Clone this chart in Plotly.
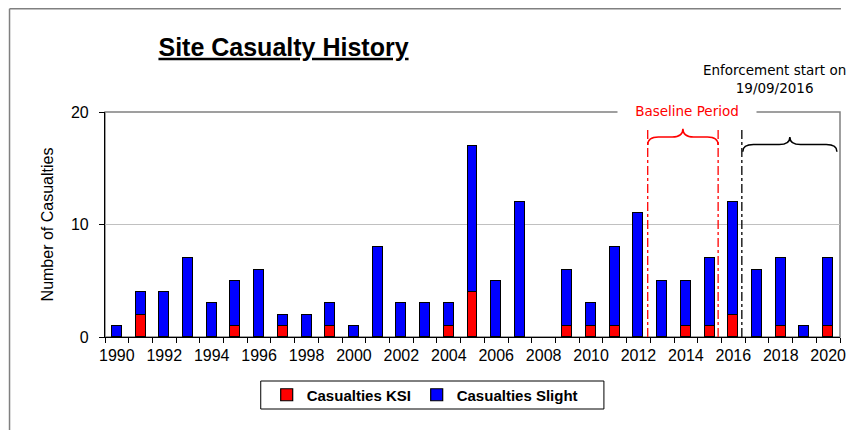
import plotly.graph_objects as go

years = list(range(1990, 2021))
casualties_ksi = [0, 2, 0, 0, 0, 1, 0, 1, 0, 1, 0, 0, 0, 0, 1, 4, 0, 0, 0, 1, 1, 1, 0, 0, 1, 1, 2, 0, 1, 0, 1]
casualties_slight = [1, 2, 4, 7, 3, 4, 6, 1, 2, 2, 1, 8, 3, 3, 2, 13, 5, 12, 0, 5, 2, 7, 11, 5, 4, 6, 10, 6, 6, 1, 6]
tick_years = list(range(1990, 2021, 2))
tick_labels = [str(y) for y in tick_years]
y_ticks = [0, 10, 20]

# annotation positions (data coordinates)
baseline_start = 2012.39
baseline_end = 2015.36
enforcement_start = 2016.36
period_end = 2020.37

FONT_ARIAL = "Liberation Sans, Arial, sans-serif"
FONT_TAHOMA = "DejaVu Sans, Verdana, sans-serif"

def nz(v):
    return [x if x != 0 else None for x in v]

fig = go.Figure()
fig.add_trace(go.Bar(x=years, y=nz(casualties_ksi), name="<b>Casualties KSI</b>", width=0.42,
                     legendwidth=105,
                     marker=dict(color="#FF0000", line=dict(color="black", width=1.2))))
fig.add_trace(go.Bar(x=years, y=nz(casualties_slight), name="<b>Casualties Slight</b>", width=0.42,
                     legendwidth=150,
                     marker=dict(color="#0000FF", line=dict(color="black", width=1.2))))

def brace(x0, x1, y_end, y_flat, y_peak, r):
    xm = (x0 + x1) / 2
    return (f"M {x0},{y_end} Q {x0},{y_flat} {x0 + r},{y_flat} L {xm - r},{y_flat} "
            f"Q {xm},{y_flat} {xm},{y_peak} Q {xm},{y_flat} {xm + r},{y_flat} "
            f"L {x1 - r},{y_flat} Q {x1},{y_flat} {x1},{y_end}")

shapes = [
    # plot-area frame (gray top/right)
    dict(type="rect", xref="paper", yref="paper", x0=0, x1=1, y0=0, y1=1,
         line=dict(color="#808080", width=1.5), layer="below"),
    # chart-area frame
    dict(type="line", xref="paper", yref="paper", x0=-0.1299, x1=1.0013, y0=1.4589, y1=1.4589,
         line=dict(color="#808080", width=1.5)),
    dict(type="line", xref="paper", yref="paper", x0=-0.1299, x1=-0.1299, y0=-0.5, y1=1.4589,
         line=dict(color="#808080", width=1.5)),
    # legend frame
    dict(type="rect", xref="paper", yref="paper", x0=0.2119, x1=0.6788, y0=-0.32, y1=-0.1956,
         line=dict(color="black", width=1), fillcolor="white", layer="below"),
    # baseline period lines
    dict(type="line", x0=baseline_start, x1=baseline_start, y0=0, y1=18.58,
         line=dict(color="#FF0000", width=1.3, dash="dashdot")),
    dict(type="line", x0=baseline_end, x1=baseline_end, y0=0, y1=18.58,
         line=dict(color="#FF0000", width=1.3, dash="dashdot")),
    dict(type="line", x0=enforcement_start, x1=enforcement_start, y0=0, y1=18.67,
         line=dict(color="black", width=1.3, dash="dashdot")),
    dict(type="path", path=brace(baseline_start, baseline_end, 17.07, 17.78, 18.52, 0.45),
         line=dict(color="#FF0000", width=1.5)),
    dict(type="path", path=brace(enforcement_start + 0.04, period_end, 16.47, 17.1, 17.78, 0.45),
         line=dict(color="black", width=1.5)),
]

annotations = [
    dict(text="&nbsp;&nbsp;&nbsp;&nbsp;Baseline Period&nbsp;&nbsp;&nbsp;&nbsp;", xref="paper", yref="paper",
         x=0.7924, y=1.0044, showarrow=False, xanchor="center", yanchor="middle",
         font=dict(family=FONT_TAHOMA, size=13.5, color="#FF0000"), bgcolor="white", borderpad=0),
    dict(text="Enforcement start on<br>19/09/2016", xref="paper", yref="paper", x=0.911, y=1.1467,
         showarrow=False, xanchor="center", yanchor="middle", align="center",
         font=dict(family=FONT_TAHOMA, size=13.5, color="black")),
]

fig.update_layout(
    width=848, height=422,
    margin=dict(l=97, r=10, t=104, b=93),
    paper_bgcolor="white", plot_bgcolor="white",
    barmode="stack",
    bargap=0,
    title=dict(text="<b><u>Site Casualty History</u></b>", x=275.5 / 848, xref="container",
               xanchor="center", y=1 - 39 / 422, yanchor="middle",
               font=dict(family=FONT_ARIAL, size=25, color="black")),
    font=dict(family=FONT_ARIAL, size=16, color="black"),
    showlegend=True,
    legend=dict(orientation="h", x=0.22, xanchor="left", y=-0.2578, yanchor="middle",
                traceorder="normal", bgcolor="rgba(0,0,0,0)", borderwidth=0,
                font=dict(family=FONT_ARIAL, size=15, color="black"),
                itemclick=False, itemdoubleclick=False),
    shapes=shapes,
    annotations=annotations,
)

fig.update_xaxes(range=[1989.5, 2020.5], tickmode="array", tickvals=tick_years, ticktext=tick_labels,
                 ticks="", showgrid=False, zeroline=False, showline=True, linecolor="black", linewidth=1.2,
                 ticklabelstandoff=4,
                 minor=dict(tickmode="linear", tick0=1989.5, dtick=1, ticks="outside", ticklen=5,
                            tickcolor="black", tickwidth=1, showgrid=False),
                 tickfont=dict(family=FONT_ARIAL, size=16, color="black"), fixedrange=True)
fig.update_yaxes(range=[0, 20], tickmode="array", tickvals=y_ticks, ticks="outside", ticklen=5,
                 tickcolor="black", showgrid=True, gridcolor="#C0C0C0", gridwidth=1, zeroline=False,
                 showline=True, linecolor="black", linewidth=1.2, ticklabelstandoff=7,
                 title=dict(text="Number of Casualties", standoff=13,
                            font=dict(family=FONT_ARIAL, size=16, color="black")),
                 tickfont=dict(family=FONT_ARIAL, size=16, color="black"), fixedrange=True)

fig.write_html("out.html", config={"displayModeBar": False})
